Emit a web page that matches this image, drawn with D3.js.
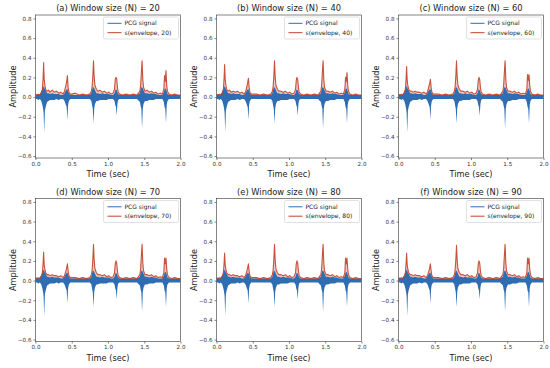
<!DOCTYPE html>
<html>
<head>
<meta charset="utf-8">
<script src="https://cdn.jsdelivr.net/npm/d3@7"></script>
<style>
body { margin: 0; background: #fff; }
svg { font-family: "DejaVu Sans", sans-serif; font-weight: normal; }
</style>
</head>
<body>
<div id="chart"></div>
<script>
// time knots (sec) shared by all series
var timeKnots = [0.00,0.02,0.04,0.06,0.08,0.095,0.105,0.112,0.12,0.13,0.14,0.16,0.18,0.20,0.23,0.26,0.29,0.32,0.35,0.38,
  0.40,0.42,0.43,0.44,0.45,0.46,0.48,0.50,0.55,0.60,0.65,0.70,0.75,0.77,0.78,0.79,0.80,0.81,0.82,0.84,
  0.86,0.89,0.92,0.95,0.98,1.01,1.04,1.07,1.09,1.10,1.11,1.12,1.13,1.14,1.16,1.20,1.25,1.30,1.35,1.40,
  1.44,1.45,1.46,1.47,1.48,1.49,1.51,1.54,1.57,1.60,1.63,1.66,1.69,1.72,1.75,1.77,1.78,1.79,1.80,1.81,
  1.82,1.84,1.88,1.92,1.96,2.00];

// PCG signal, upper and lower extent at each knot
var pcgHigh = [0.02,0.03,0.02,0.03,0.05,0.08,0.10,0.11,0.10,0.08,0.07,0.04,0.04,0.03,0.04,0.03,0.03,0.03,0.02,0.02,
  0.04,0.07,0.08,0.08,0.06,0.04,0.02,0.02,0.02,0.02,0.02,0.02,0.02,0.04,0.07,0.10,0.10,0.09,0.07,0.04,
  0.04,0.03,0.04,0.03,0.03,0.03,0.02,0.02,0.04,0.07,0.08,0.07,0.05,0.03,0.02,0.02,0.02,0.02,0.02,0.02,
  0.04,0.08,0.10,0.10,0.09,0.07,0.04,0.04,0.03,0.04,0.03,0.03,0.02,0.02,0.02,0.05,0.08,0.09,0.08,0.06,
  0.03,0.02,0.02,0.02,0.02,0.02];
var pcgLow = [-0.02,-0.02,-0.03,-0.02,-0.04,-0.08,-0.12,-0.16,-0.36,-0.14,-0.10,-0.05,-0.04,-0.03,-0.03,-0.03,-0.02,-0.03,-0.02,-0.02,
  -0.04,-0.08,-0.10,-0.23,-0.08,-0.04,-0.02,-0.02,-0.02,-0.02,-0.02,-0.02,-0.02,-0.04,-0.08,-0.12,-0.27,-0.12,-0.07,-0.04,
  -0.04,-0.03,-0.03,-0.03,-0.03,-0.02,-0.02,-0.02,-0.04,-0.08,-0.10,-0.19,-0.07,-0.03,-0.02,-0.02,-0.02,-0.02,-0.02,-0.02,
  -0.05,-0.09,-0.12,-0.32,-0.12,-0.07,-0.04,-0.04,-0.03,-0.03,-0.03,-0.02,-0.02,-0.02,-0.02,-0.05,-0.10,-0.12,-0.27,-0.08,
  -0.04,-0.02,-0.02,-0.02,-0.02,-0.02];

// envelope for each window size
var env20 = [0.03,0.02,0.03,0.02,0.05,0.08,0.20,0.35,0.18,0.12,0.08,0.06,0.07,0.05,0.07,0.05,0.06,0.04,0.05,0.03,
  0.06,0.12,0.16,0.22,0.10,0.05,0.03,0.03,0.04,0.02,0.03,0.02,0.03,0.06,0.10,0.20,0.37,0.20,0.12,0.08,
  0.06,0.07,0.05,0.06,0.04,0.05,0.03,0.04,0.08,0.18,0.20,0.19,0.10,0.05,0.03,0.02,0.03,0.02,0.03,0.02,
  0.06,0.12,0.25,0.37,0.18,0.10,0.06,0.07,0.05,0.06,0.04,0.05,0.03,0.04,0.03,0.08,0.22,0.16,0.27,0.12,
  0.06,0.03,0.02,0.03,0.02,0.02];
var env40 = [0.03,0.02,0.03,0.02,0.05,0.08,0.20,0.33,0.18,0.12,0.08,0.06,0.07,0.05,0.06,0.05,0.06,0.04,0.05,0.03,
  0.05,0.11,0.15,0.19,0.10,0.05,0.03,0.03,0.03,0.02,0.03,0.02,0.03,0.06,0.10,0.20,0.37,0.20,0.12,0.08,
  0.06,0.06,0.05,0.06,0.04,0.05,0.03,0.04,0.08,0.17,0.20,0.18,0.10,0.05,0.03,0.02,0.03,0.02,0.03,0.02,
  0.06,0.12,0.25,0.37,0.18,0.10,0.06,0.06,0.05,0.06,0.04,0.05,0.03,0.04,0.03,0.08,0.20,0.16,0.25,0.12,
  0.06,0.03,0.02,0.03,0.02,0.02];
var env60 = [0.03,0.02,0.03,0.02,0.05,0.08,0.19,0.31,0.17,0.11,0.08,0.06,0.06,0.05,0.06,0.05,0.05,0.04,0.05,0.03,
  0.05,0.11,0.14,0.18,0.10,0.05,0.03,0.03,0.03,0.02,0.03,0.02,0.03,0.06,0.10,0.20,0.37,0.20,0.12,0.08,
  0.06,0.06,0.05,0.06,0.04,0.05,0.03,0.04,0.08,0.17,0.20,0.18,0.10,0.05,0.03,0.02,0.03,0.02,0.03,0.02,
  0.06,0.12,0.25,0.37,0.18,0.10,0.06,0.06,0.05,0.06,0.04,0.05,0.03,0.04,0.03,0.08,0.23,0.17,0.23,0.12,
  0.06,0.03,0.02,0.03,0.02,0.02];
var env70 = [0.03,0.02,0.03,0.02,0.05,0.08,0.18,0.29,0.16,0.11,0.08,0.06,0.06,0.05,0.06,0.05,0.05,0.04,0.05,0.03,
  0.05,0.10,0.13,0.17,0.10,0.05,0.03,0.03,0.03,0.02,0.03,0.02,0.03,0.06,0.10,0.20,0.37,0.20,0.12,0.08,
  0.06,0.06,0.05,0.06,0.04,0.05,0.03,0.04,0.08,0.17,0.20,0.18,0.10,0.05,0.03,0.02,0.03,0.02,0.03,0.02,
  0.06,0.12,0.25,0.37,0.18,0.10,0.06,0.06,0.05,0.06,0.04,0.05,0.03,0.04,0.03,0.08,0.23,0.17,0.23,0.12,
  0.06,0.03,0.02,0.03,0.02,0.02];
var env80 = [0.03,0.02,0.03,0.02,0.05,0.08,0.18,0.28,0.16,0.11,0.08,0.06,0.06,0.05,0.06,0.05,0.05,0.04,0.05,0.03,
  0.05,0.10,0.13,0.17,0.10,0.05,0.03,0.03,0.03,0.02,0.03,0.02,0.03,0.06,0.10,0.20,0.37,0.20,0.12,0.08,
  0.06,0.06,0.05,0.06,0.04,0.05,0.03,0.04,0.08,0.17,0.20,0.18,0.10,0.05,0.03,0.02,0.03,0.02,0.03,0.02,
  0.06,0.12,0.25,0.37,0.18,0.10,0.06,0.06,0.05,0.06,0.04,0.05,0.03,0.04,0.03,0.08,0.23,0.17,0.23,0.12,
  0.06,0.03,0.02,0.03,0.02,0.02];
var env90 = [0.03,0.02,0.03,0.02,0.05,0.08,0.18,0.28,0.16,0.11,0.08,0.06,0.06,0.05,0.06,0.05,0.05,0.04,0.05,0.03,
  0.05,0.10,0.13,0.17,0.10,0.05,0.03,0.03,0.03,0.02,0.03,0.02,0.03,0.06,0.10,0.20,0.36,0.20,0.12,0.08,
  0.06,0.06,0.05,0.06,0.04,0.05,0.03,0.04,0.08,0.17,0.20,0.18,0.10,0.05,0.03,0.02,0.03,0.02,0.03,0.02,
  0.06,0.12,0.25,0.37,0.18,0.10,0.06,0.06,0.05,0.06,0.04,0.05,0.03,0.04,0.03,0.08,0.23,0.17,0.23,0.12,
  0.06,0.03,0.02,0.03,0.02,0.02];

var panelLetters = ["a", "b", "c", "d", "e", "f"];
var windowSizes = [20, 40, 60, 70, 80, 90];
var envelopes = [env20, env40, env60, env70, env80, env90];
var xTicks = [0, 0.5, 1.0, 1.5, 2.0];
var yTicks = [-0.6, -0.4, -0.2, 0.0, 0.2, 0.4, 0.6, 0.8];

var svgWidth = 550, svgHeight = 368;
var colX = [35.5, 216.5, 398.5];
var rowY = [15, 198.5];
var plotW = 145, plotH = 143;

var blue = "#2f6db3", red = "#c2432b";

var svg = d3.select("#chart").append("svg")
  .attr("width", svgWidth)
  .attr("height", svgHeight);

var xScale = d3.scaleLinear().domain([0, 2]).range([0, plotW]);
var yScale = d3.scaleLinear().domain([-0.62, 0.835]).range([plotH, 0]);

var pcgArea = d3.area()
  .x(function(d, i) { return xScale(timeKnots[i]); })
  .y0(function(d, i) { return yScale(pcgLow[i]); })
  .y1(function(d, i) { return yScale(pcgHigh[i]); });

var envLine = d3.line()
  .x(function(d, i) { return xScale(timeKnots[i]); })
  .y(function(d) { return yScale(d); });

// faint shading under the envelope, to mimic the dense overlapping trace
var envFill = d3.area()
  .x(function(d, i) { return xScale(timeKnots[i]); })
  .y0(yScale(0))
  .y1(function(d) { return yScale(d); });

svg.append("defs").append("clipPath").attr("id", "plotclip")
  .append("rect").attr("width", plotW).attr("height", plotH);

windowSizes.forEach(function(n, k) {
  var g = svg.append("g")
    .attr("transform", "translate(" + colX[k % 3] + "," + rowY[Math.floor(k / 3)] + ")");

  var plot = g.append("g").attr("clip-path", "url(#plotclip)");
  plot.append("path")
    .datum(envelopes[k])
    .attr("d", envFill)
    .attr("fill", red)
    .attr("fill-opacity", 0.3);
  plot.append("path")
    .datum(pcgHigh)
    .attr("d", pcgArea)
    .attr("fill", blue);
  plot.append("path")
    .datum(envelopes[k])
    .attr("d", envLine)
    .attr("fill", "none")
    .attr("stroke", red)
    .attr("stroke-opacity", 0.9)
    .attr("stroke-width", 1.1)
    .attr("stroke-linejoin", "round");

  // axes
  var xAxis = g.append("g")
    .attr("transform", "translate(0," + plotH + ")")
    .call(d3.axisBottom(xScale).tickValues(xTicks).tickSize(2).tickPadding(2).tickFormat(d3.format(".1f")));
  var yAxis = g.append("g")
    .call(d3.axisLeft(yScale).tickValues(yTicks).tickSize(2).tickPadding(2).tickFormat(d3.format(".1f")));
  [xAxis, yAxis].forEach(function(ax) {
    ax.select(".domain").remove();
    ax.selectAll("line").attr("stroke", "#333").attr("stroke-width", 0.6);
    ax.selectAll("text").attr("font-size", 5.6).attr("fill", "#333")
      .attr("font-family", "DejaVu Sans, sans-serif");
  });

  g.append("rect")
    .attr("width", plotW)
    .attr("height", plotH)
    .attr("fill", "none")
    .attr("stroke", "#333")
    .attr("stroke-width", 0.6);

  // title and labels
  g.append("text")
    .attr("x", plotW / 2)
    .attr("y", -4)
    .attr("text-anchor", "middle")
    .attr("font-size", 8.3)
    .attr("fill", "#222")
    .text("(" + panelLetters[k] + ") Window size (N) = " + n);

  g.append("text")
    .attr("x", plotW / 2)
    .attr("y", plotH + 19)
    .attr("text-anchor", "middle")
    .attr("font-size", 8.2)
    .attr("fill", "#222")
    .text("Time (sec)");

  g.append("text")
    .attr("transform", "rotate(-90)")
    .attr("x", -plotH / 2)
    .attr("y", -20)
    .attr("text-anchor", "middle")
    .attr("font-size", 8.2)
    .attr("fill", "#222")
    .text("Amplitude");

  // legend
  var lg = g.append("g").attr("transform", "translate(" + (plotW - 77) + ",2)");
  lg.append("rect")
    .attr("width", 75)
    .attr("height", 22)
    .attr("rx", 1.5)
    .attr("fill", "#fff")
    .attr("fill-opacity", 0.8)
    .attr("stroke", "#ccc")
    .attr("stroke-width", 0.6);
  var items = [["PCG signal", blue], ["s(envelope, " + n + ")", red]];
  items.forEach(function(it, j) {
    var yy = 6.3 + j * 9.4;
    lg.append("line")
      .attr("x1", 4).attr("x2", 18)
      .attr("y1", yy).attr("y2", yy)
      .attr("stroke", it[1])
      .attr("stroke-width", 1);
    lg.append("text")
      .attr("x", 21)
      .attr("y", yy)
      .attr("dy", "0.35em")
      .attr("font-size", 6)
      .attr("fill", "#222")
      .text(it[0]);
  });
});
</script>
</body>
</html>
